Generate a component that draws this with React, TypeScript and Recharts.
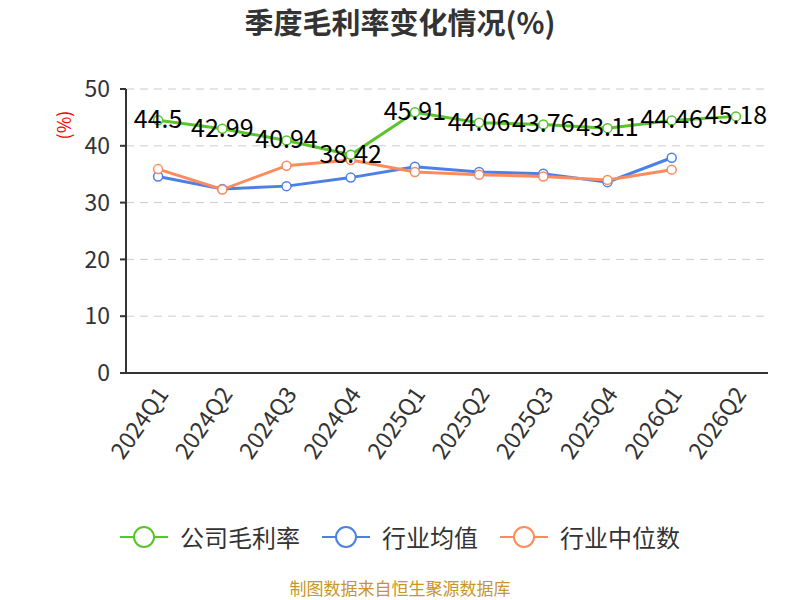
import React from "react";
import { LineChart, Line, XAxis, YAxis, CartesianGrid, LabelList } from "recharts";

const quarters = ["2024Q1", "2024Q2", "2024Q3", "2024Q4", "2025Q1", "2025Q2", "2025Q3", "2025Q4", "2026Q1", "2026Q2"];
const company = [44.5, 42.99, 40.94, 38.42, 45.91, 44.06, 43.76, 43.11, 44.46, 45.18];
const industryAvg = [34.6, 32.4, 32.9, 34.4, 36.3, 35.4, 35.1, 33.6, 37.9, null];
const industryMedian = [35.9, 32.3, 36.5, 37.5, 35.4, 34.9, 34.6, 34.0, 35.8, null];
const yTicks = [0, 10, 20, 30, 40, 50];

const FONT = '"Noto Sans CJK SC", "Noto Sans", sans-serif';
const GREEN = "#5ac42c";
const BLUE = "#4d80e6";
const ORANGE = "#ff8b5c";

const data = quarters.map((q, i) => ({
  x: i + 0.5,
  quarter: q,
  company: company[i],
  avg: industryAvg[i],
  median: industryMedian[i],
}));

const labelTicks = quarters.map((_, i) => i + 0.5);
const edgeTicks = quarters.map((_, i) => i).concat(quarters.length);

const legendItems = [
  { name: "公司毛利率", color: GREEN },
  { name: "行业均值", color: BLUE },
  { name: "行业中位数", color: ORANGE },
];

function LegendIcon({ color }: { color: string }) {
  return (
    <svg width={48} height={24}>
      <line x1={0} y1={12} x2={48} y2={12} stroke={color} strokeWidth={2} />
      <circle cx={24} cy={12} r={10} fill="#fff" stroke={color} strokeWidth={2} />
    </svg>
  );
}

export default function App() {
  return (
    <div style={{ position: "absolute", left: 0, top: 0, width: 800, height: 600, fontFamily: FONT, background: "#fff" }}>
      <div style={{ position: "absolute", top: 0, width: 800, textAlign: "center", fontSize: 29, fontWeight: "bold", color: "#333" }}>
        季度毛利率变化情况(%)
      </div>
      <div style={{ position: "absolute", left: 48, top: 112, width: 30, height: 26, transform: "rotate(-90deg)", color: "red", fontSize: 18, lineHeight: "26px", textAlign: "center", whiteSpace: "nowrap" }}>
        (%)
      </div>
      <LineChart width={800} height={570} data={data} margin={{ top: 89, right: 32, left: 66, bottom: 111 }}>
        <CartesianGrid vertical={false} stroke="#ccc" strokeDasharray="8 6" />
        <XAxis
          xAxisId="edge"
          dataKey="x"
          type="number"
          domain={[0, quarters.length]}
          ticks={edgeTicks}
          tick={false}
          tickSize={6}
          height={6}
          stroke="#333"
          strokeWidth={2}
        />
        <XAxis
          xAxisId="lab"
          dataKey="x"
          type="number"
          domain={[0, quarters.length]}
          ticks={labelTicks}
          tickFormatter={(v: number) => quarters[Math.floor(v)]}
          axisLine={false}
          tickLine={false}
          height={80}
          angle={-55}
          textAnchor="end"
          tick={{ fontSize: 23, fill: "#333", fontFamily: FONT, dx: -2, dy: -2 }}
          interval={0}
        />
        <YAxis
          domain={[0, 50]}
          ticks={yTicks}
          width={60}
          stroke="#333"
          strokeWidth={2}
          tickSize={6}
          tickMargin={10}
          tick={{ fontSize: 23, fill: "#333", fontFamily: FONT }}
        />
        <Line
          xAxisId="edge"
          dataKey="avg"
          stroke={BLUE}
          strokeWidth={3}
          dot={{ r: 4.5, fill: "#fff", stroke: BLUE, strokeWidth: 1.5 }}
          isAnimationActive={false}
        />
        <Line
          xAxisId="edge"
          dataKey="median"
          stroke={ORANGE}
          strokeWidth={3}
          dot={{ r: 4.5, fill: "#fff", stroke: ORANGE, strokeWidth: 1.5 }}
          isAnimationActive={false}
        />
        <Line
          xAxisId="lab"
          dataKey="company"
          stroke={GREEN}
          strokeWidth={3}
          dot={{ r: 4.5, fill: "#fff", stroke: GREEN, strokeWidth: 1.5 }}
          isAnimationActive={false}
        >
          <LabelList
            dataKey="company"
            content={(p: any) => (
              <text x={p.x} y={p.y + 8} textAnchor="middle" fontSize={25} fill="#000" fontFamily={FONT}>
                {p.value}
              </text>
            )}
          />
        </Line>
      </LineChart>
      <div style={{ position: "absolute", top: 519, left: 0, width: 800, display: "flex", justifyContent: "center", alignItems: "center", gap: 22, fontSize: 24, color: "#333" }}>
        {legendItems.map((it) => (
          <div key={it.name} style={{ display: "flex", alignItems: "center", gap: 12 }}>
            <LegendIcon color={it.color} />
            <span>{it.name}</span>
          </div>
        ))}
      </div>
      <div style={{ position: "absolute", top: 578, left: 0, width: 800, height: 20, textAlign: "center", fontSize: 17, lineHeight: "20px", color: "#c8952b" }}>
        制图数据来自恒生聚源数据库
      </div>
    </div>
  );
}
